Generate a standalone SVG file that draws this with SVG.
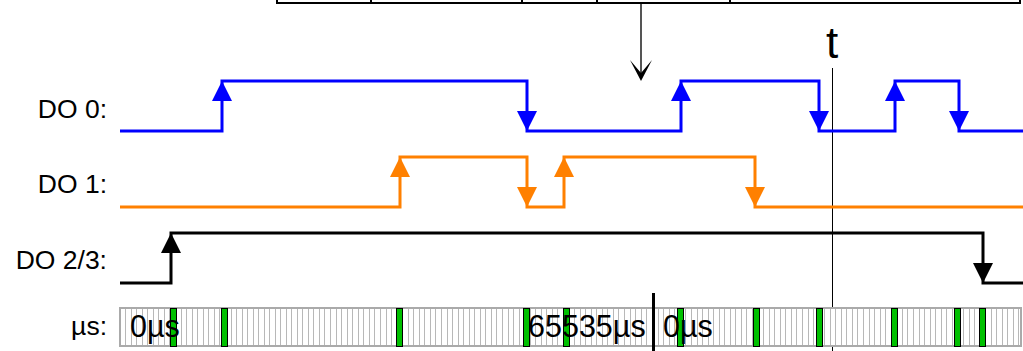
<svg xmlns="http://www.w3.org/2000/svg" width="1023" height="351" viewBox="0 0 1023 351">
<style>
.lbl{font-family:"Liberation Sans",Arial,sans-serif;font-size:26.5px;fill:#000;text-anchor:end}
.ts{font-family:"Liberation Sans",Arial,sans-serif;font-size:30.5px;fill:#000}
.sig{fill:none;stroke-width:3;stroke-linejoin:miter}
.tick{stroke:#b8b8b8;stroke-width:1}
.mark{fill:#00c000;stroke:#000;stroke-width:1}
</style>
<defs>
<path id="up" d="M0,0 L-10,20 L10,20 Z"/>
<path id="dn" d="M0,0 L-10,-20 L10,-20 Z"/>
</defs>
<g id="table">
<rect x="277" y="-20" width="743" height="23" fill="none" stroke="#000" stroke-width="2"/>
<line x1="371" y1="-20" x2="371" y2="3" stroke="#000" stroke-width="2"/>
<line x1="522" y1="-20" x2="522" y2="3" stroke="#000" stroke-width="2"/>
<line x1="597" y1="-20" x2="597" y2="3" stroke="#000" stroke-width="2"/>
<line x1="730" y1="-20" x2="730" y2="3" stroke="#000" stroke-width="2"/>
</g>
<g id="labels">
<text class="lbl" x="107" y="118">DO 0:</text>
<text class="lbl" x="107" y="193">DO 1:</text>
<text class="lbl" x="107" y="269">DO 2/3:</text>
<text class="lbl" x="107" y="335">µs:</text>
</g>
<g id="t-marker">
<text x="832" y="58" font-family="Liberation Sans,Arial,sans-serif" font-size="44" text-anchor="middle">t</text>
<line x1="832.5" y1="68" x2="832.5" y2="351" stroke="#000" stroke-width="1"/>
</g>
<g id="timeline">
<rect x="120" y="308" width="901" height="38" fill="#fff" stroke="#aaa" stroke-width="2"/>
</g>
<g id="connectors">
<line x1="641" y1="4" x2="641" y2="74" stroke="#555" stroke-width="2"/>
<path d="M630,60 L641,81 L652,60 L641,73 Z" fill="#000"/>
</g>
<g id="do0">
<path class="sig" stroke="#0000ff" d="M120,131 H222 V81 H527 V131 H681 V81 H819 V131 H895 V81 H959 V131 H1023"/>
<g fill="#0000ff">
<use href="#up" x="222" y="81"/><use href="#dn" x="527" y="131"/>
<use href="#up" x="681" y="81"/><use href="#dn" x="819" y="131"/>
<use href="#up" x="895" y="81"/><use href="#dn" x="959" y="131"/>
</g>
</g>
<g id="do1">
<path class="sig" stroke="#ff8000" d="M120,207 H400 V157 H527 V207 H564 V157 H755 V207 H1023"/>
<g fill="#ff8000">
<use href="#up" x="400" y="157"/><use href="#dn" x="527" y="207"/>
<use href="#up" x="564" y="157"/><use href="#dn" x="755" y="207"/>
</g>
</g>
<g id="do23">
<path class="sig" stroke="#000" d="M120,283 H171 V233 H983 V283 H1023"/>
<g fill="#000">
<use href="#up" x="171" y="233"/><use href="#dn" x="983" y="283"/>
</g>
</g>
<g id="scale">
<path class="tick" d="M125.5,309V345M131.5,309V345M136.5,309V345M142.5,309V345M147.5,309V345M153.5,309V345M158.5,309V345M164.5,309V345M169.5,309V345M175.5,309V345M181.5,309V345M186.5,309V345M192.5,309V345M197.5,309V345M203.5,309V345M208.5,309V345M214.5,309V345M219.5,309V345M225.5,309V345M231.5,309V345M236.5,309V345M242.5,309V345M247.5,309V345M253.5,309V345M258.5,309V345M264.5,309V345M269.5,309V345M275.5,309V345M280.5,309V345M286.5,309V345M291.5,309V345M297.5,309V345M302.5,309V345M308.5,309V345M313.5,309V345M319.5,309V345M324.5,309V345M330.5,309V345M336.5,309V345M341.5,309V345M347.5,309V345M352.5,309V345M358.5,309V345M363.5,309V345M369.5,309V345M374.5,309V345M380.5,309V345M386.5,309V345M391.5,309V345M397.5,309V345M402.5,309V345M408.5,309V345M413.5,309V345M419.5,309V345M424.5,309V345M430.5,309V345M435.5,309V345M441.5,309V345M447.5,309V345M452.5,309V345M458.5,309V345M463.5,309V345M469.5,309V345M474.5,309V345M480.5,309V345M485.5,309V345M491.5,309V345M496.5,309V345M502.5,309V345M508.5,309V345M513.5,309V345M519.5,309V345M524.5,309V345M530.5,309V345M535.5,309V345M541.5,309V345M546.5,309V345M552.5,309V345M557.5,309V345M563.5,309V345M569.5,309V345M574.5,309V345M580.5,309V345M585.5,309V345M591.5,309V345M596.5,309V345M602.5,309V345M607.5,309V345M613.5,309V345M618.5,309V345M624.5,309V345M630.5,309V345M635.5,309V345M641.5,309V345M646.5,309V345M658.5,309V345M663.5,309V345M669.5,309V345M674.5,309V345M680.5,309V345M685.5,309V345M691.5,309V345M697.5,309V345M702.5,309V345M708.5,309V345M713.5,309V345M719.5,309V345M724.5,309V345M730.5,309V345M735.5,309V345M741.5,309V345M746.5,309V345M752.5,309V345M758.5,309V345M763.5,309V345M769.5,309V345M774.5,309V345M780.5,309V345M785.5,309V345M791.5,309V345M796.5,309V345M802.5,309V345M808.5,309V345M813.5,309V345M819.5,309V345M824.5,309V345M830.5,309V345M835.5,309V345M841.5,309V345M846.5,309V345M852.5,309V345M857.5,309V345M863.5,309V345M869.5,309V345M874.5,309V345M880.5,309V345M885.5,309V345M891.5,309V345M896.5,309V345M902.5,309V345M907.5,309V345M913.5,309V345M919.5,309V345M924.5,309V345M930.5,309V345M935.5,309V345M941.5,309V345M946.5,309V345M952.5,309V345M957.5,309V345M963.5,309V345M969.5,309V345M974.5,309V345M980.5,309V345M985.5,309V345M991.5,309V345M996.5,309V345M1002.5,309V345M1007.5,309V345M1013.5,309V345M1018.5,309V345"/>
<rect class="mark" x="170.5" y="308.5" width="6" height="38"/>
<rect class="mark" x="221.5" y="308.5" width="6" height="38"/>
<rect class="mark" x="396.5" y="308.5" width="6" height="38"/>
<rect class="mark" x="523.5" y="308.5" width="6" height="38"/>
<rect class="mark" x="563.5" y="308.5" width="6" height="38"/>
<rect class="mark" x="677.5" y="308.5" width="6" height="38"/>
<rect class="mark" x="753.5" y="308.5" width="6" height="38"/>
<rect class="mark" x="816.5" y="308.5" width="6" height="38"/>
<rect class="mark" x="891.5" y="308.5" width="6" height="38"/>
<rect class="mark" x="954.5" y="308.5" width="6" height="38"/>
<rect class="mark" x="979.5" y="308.5" width="6" height="38"/>
<line x1="653.5" y1="293" x2="653.5" y2="351" stroke="#000" stroke-width="3"/>
<text class="ts" x="130" y="337">0µs</text>
<text class="ts" x="528" y="337">65535µs</text>
<text class="ts" x="663" y="337">0µs</text>
</g>
</svg>
